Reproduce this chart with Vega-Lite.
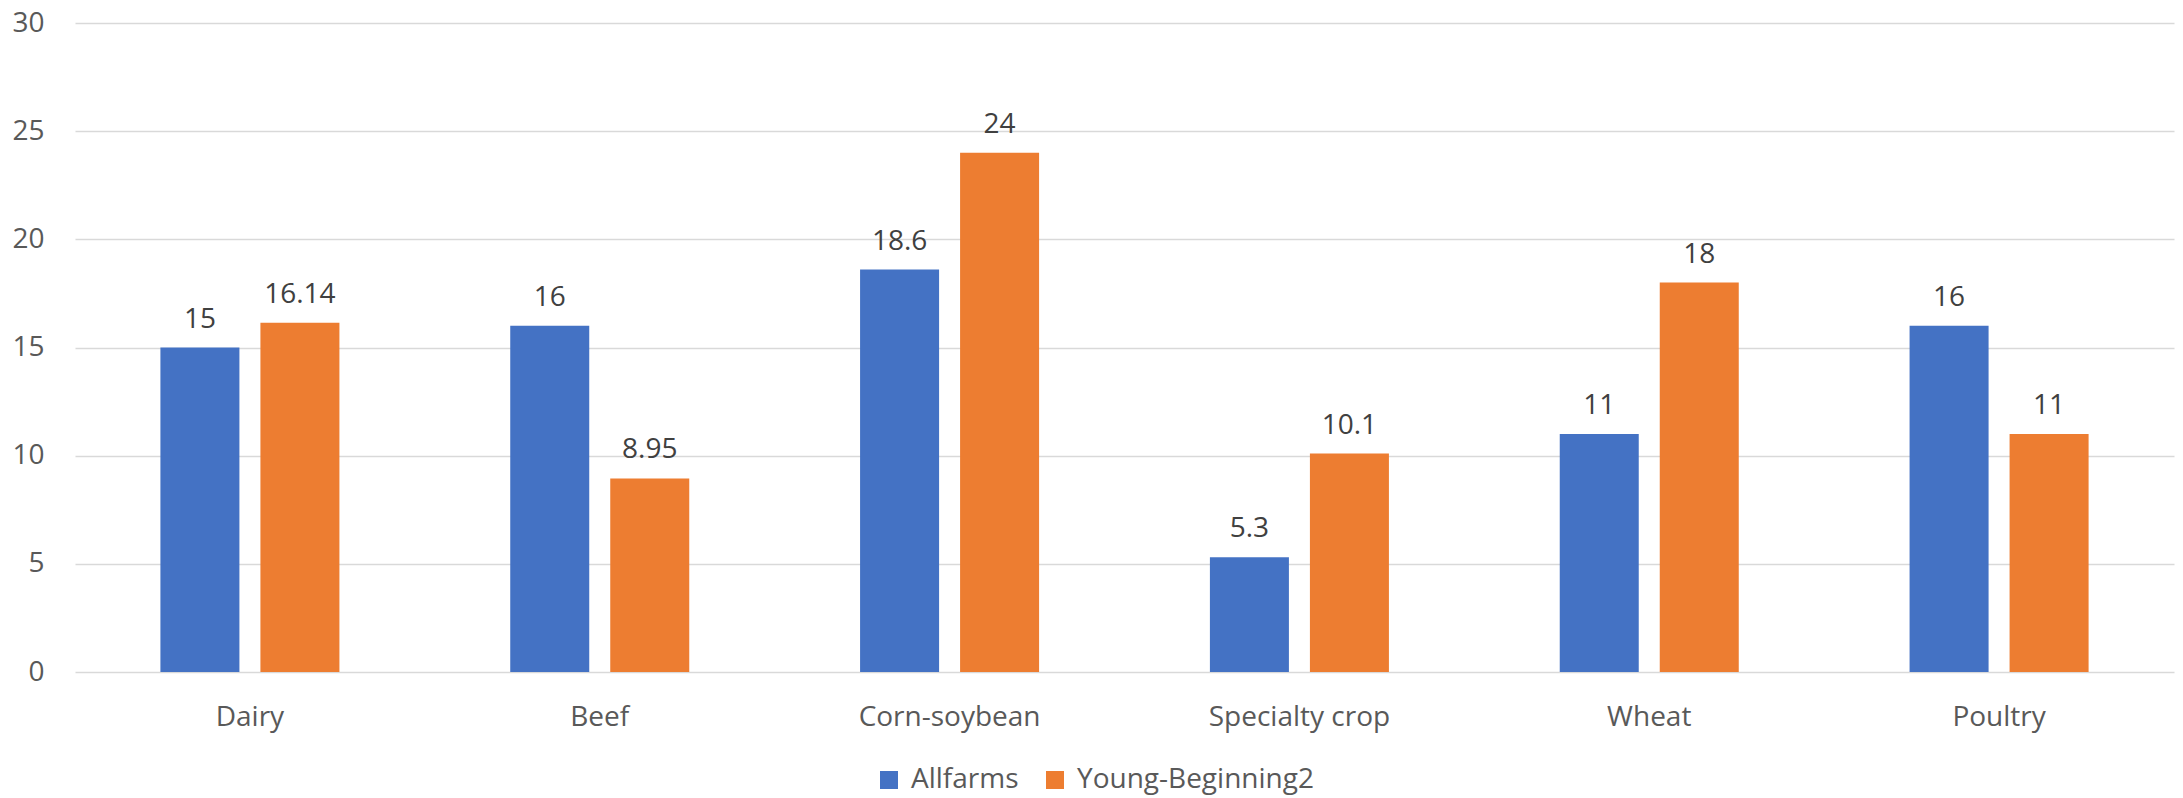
{
  "$schema": "https://vega.github.io/schema/vega-lite/v6.json",
  "width": 2099,
  "height": 649,
  "autosize": {"type": "none"},
  "padding": {"left": 75, "top": 23, "right": 9, "bottom": 126},
  "background": "white",
  "config": {
    "view": {"stroke": null},
    "font": "Open Sans",
    "text": {"font": "Open Sans"}
  },
  "data": {
    "values": [
      {"category": "Dairy", "group": "Allfarms", "value": 15, "label": "15"},
      {"category": "Dairy", "group": "Young-Beginning2", "value": 16.14, "label": "16.14"},
      {"category": "Beef", "group": "Allfarms", "value": 16, "label": "16"},
      {"category": "Beef", "group": "Young-Beginning2", "value": 8.95, "label": "8.95"},
      {"category": "Corn-soybean", "group": "Allfarms", "value": 18.6, "label": "18.6"},
      {"category": "Corn-soybean", "group": "Young-Beginning2", "value": 24, "label": "24"},
      {"category": "Specialty crop", "group": "Allfarms", "value": 5.3, "label": "5.3"},
      {"category": "Specialty crop", "group": "Young-Beginning2", "value": 10.1, "label": "10.1"},
      {"category": "Wheat", "group": "Allfarms", "value": 11, "label": "11"},
      {"category": "Wheat", "group": "Young-Beginning2", "value": 18, "label": "18"},
      {"category": "Poultry", "group": "Allfarms", "value": 16, "label": "16"},
      {"category": "Poultry", "group": "Young-Beginning2", "value": 11, "label": "11"}
    ]
  },
  "encoding": {
    "x": {
      "field": "category",
      "type": "nominal",
      "sort": null,
      "scale": {"paddingInner": 0, "paddingOuter": 0},
      "axis": {
        "title": null,
        "domain": false,
        "ticks": false,
        "tickSize": 0,
        "labelAngle": 0,
        "labelFontSize": 28,
        "labelColor": "#595959",
        "labelBaseline": "alphabetic",
        "labelPadding": 53,
        "labelLimit": 0,
        "grid": false
      }
    },
    "xOffset": {
      "field": "group",
      "type": "nominal",
      "scale": {"paddingInner": 0.21, "paddingOuter": 0.854}
    },
    "y": {
      "field": "value",
      "type": "quantitative",
      "scale": {"domain": [0, 30], "nice": false},
      "axis": {
        "title": null,
        "values": [0, 5, 10, 15, 20, 25, 30],
        "domain": false,
        "ticks": false,
        "tickSize": 0,
        "labelFontSize": 28,
        "labelColor": "#595959",
        "labelPadding": 31,
        "grid": true,
        "gridColor": "#D9D9D9",
        "gridWidth": 1.5
      }
    }
  },
  "layer": [
    {
      "mark": {"type": "bar"},
      "encoding": {
        "color": {
          "field": "group",
          "type": "nominal",
          "scale": {"domain": ["Allfarms", "Young-Beginning2"], "range": ["#4472C4", "#ED7D31"]},
          "legend": {
            "title": null,
            "orient": "none",
            "direction": "horizontal",
            "legendX": 800,
            "legendY": 743,
            "padding": 0,
            "symbolType": "square",
            "symbolSize": 324,
            "symbolStrokeWidth": 0,
            "labelFontSize": 28,
            "labelColor": "#595959",
            "labelOffset": 8,
            "labelLimit": 0,
            "columnPadding": 22
          }
        }
      }
    },
    {
      "mark": {"type": "text", "baseline": "alphabetic", "dy": -20, "fontSize": 28, "color": "#404040"},
      "encoding": {
        "text": {"field": "label", "type": "nominal"}
      }
    }
  ]
}
